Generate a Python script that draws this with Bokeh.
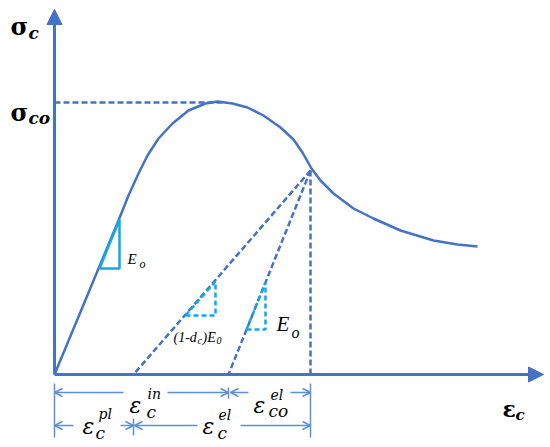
from bokeh.plotting import figure
from bokeh.models import Arrow, NormalHead, OpenHead, Range1d
from bokeh.core.properties import value
from bokeh.embed import file_html
from bokeh.resources import INLINE

# ---- data (schematic units) ----
env_strain = [0, 64, 74, 84, 93, 104, 118, 134, 151, 163, 178, 193, 209, 226, 239, 248, 257, 266, 279, 299, 319, 346, 379, 403, 423]
env_stress = [0, 154, 179, 201, 219, 236, 251, 264, 271, 273, 271, 267, 259, 247, 235, 222, 206, 194, 181, 166, 156, 144, 134, 130, 128]
peak_strain = 168
sigma_co = 272
unload_strain = 256
unload_stress = 204
eps_pl = 79            # damaged unloading line meets axis
eps_el_start = 174     # undamaged (E0) unloading line meets axis
axis_x_end = 489
axis_y_end = 365
tri1_x = [45, 65, 65, 45]
tri1_y = [106, 106, 155, 106]
tri2_x = [131, 161, 161, 131]
tri2_y = [59, 59, 93, 59]
tri3_x = [192, 211, 211, 192]
tri3_y = [45, 45, 92, 45]

BLUE = "#4472C4"
DIM = "#5B8FD6"
CYAN = "#11A9EC"

p = figure(width=550, height=447, output_backend="svg", toolbar_location=None,
           x_range=Range1d(-54, 496), y_range=Range1d(-73, 374), min_border=0)
p.axis.visible = False
p.grid.visible = False
p.outline_line_color = None

# axes with arrows
p.add_layout(Arrow(x_start=0, y_start=0, x_end=0, y_end=axis_y_end, line_color=BLUE, line_width=3,
                   end=NormalHead(size=15, fill_color=BLUE, line_color=BLUE)))
p.add_layout(Arrow(x_start=0, y_start=0, x_end=axis_x_end, y_end=0, line_color=BLUE, line_width=3,
                   end=NormalHead(size=15, fill_color=BLUE, line_color=BLUE)))

# envelope curve
p.line(env_strain, env_stress, line_color=BLUE, line_width=2.5, line_join="round")

# dashed guides
p.line([0, peak_strain], [sigma_co, sigma_co], line_color=BLUE, line_width=2.5, line_dash="6 3")
p.line([unload_strain, eps_pl], [unload_stress, 0], line_color=BLUE, line_width=2.5, line_dash="6 3")
p.line([unload_strain, eps_el_start], [unload_stress, 0], line_color=BLUE, line_width=2.5, line_dash="6 3")
p.line([unload_strain, unload_strain], [unload_stress, 0], line_color=BLUE, line_width=2.5, line_dash="6 3")

# slope triangles
p.line(tri1_x, tri1_y, line_color=CYAN, line_width=2.5)
p.line(tri2_x, tri2_y, line_color=CYAN, line_width=2.5, line_dash="5 3")
p.line(tri3_x, tri3_y, line_color=CYAN, line_width=2.5, line_dash="5 3")

# dimension lines
row1, row2 = -18, -51
def dim(xs, xe, y):
    p.add_layout(Arrow(x_start=xs, y_start=y, x_end=xe, y_end=y, line_color=DIM, line_width=1.5,
                       end=OpenHead(size=8, line_color=DIM, line_width=1.5)))

dim(69, 0, row1); dim(113, eps_el_start, row1)
dim(194, eps_el_start + 2, row1); dim(236, unload_strain, row1)
dim(19, 0, row2); dim(66, eps_pl, row2)
dim(143, eps_pl + 1, row2); dim(186, unload_strain, row2)

for xx, y0, y1 in [(0, -9, -63), (unload_strain, -9, -63), (eps_el_start, -13, -24), (eps_pl, -44, -61)]:
    p.line([xx, xx], [y0, y1], line_color=DIM, line_width=1.5)

# ---- texts ----
def txt(x, y, s, size, font="DejaVu Serif", style="italic", color="black"):
    p.text(x=[x], y=[y], text=[s], text_font=value(font), text_font_size=f"{size}px",
           text_font_style=style, text_color=color, text_baseline="alphabetic", text_align="left")

# axis symbols
txt(-44, 348, "σ", 24, style="bold")
txt(-26, 342, "c", 17, style="bold italic")
txt(-44, 262, "σ", 24, style="bold")
txt(-26, 257, "co", 17, style="bold italic")
txt(448, -34, "ε", 22, style="bold")
txt(461, -40, "c", 15, style="bold italic")

# strain components
txt(75, -31, "ε", 22); txt(92, -37, "c", 17); txt(93, -19, "in", 14)
txt(199, -31, "ε", 22); txt(214, -36, "co", 17); txt(216, -20, "el", 14)
txt(28, -52, "ε", 22); txt(41, -58, "c", 17); txt(44, -39, "pl", 14)
txt(148, -52, "ε", 22); txt(163, -58, "c", 17); txt(164, -40, "el", 14)

# moduli
txt(73, 116, "E", 15, font="Liberation Serif"); txt(85, 111, "o", 12, font="Liberation Serif")
txt(222, 51, "E", 21, font="Liberation Serif"); txt(237, 42, "o", 16, font="Liberation Serif")
txt(119, 37, "(1-d", 14, font="Liberation Serif"); txt(143, 34, "c", 10, font="Liberation Serif")
txt(148, 37, ")E", 14, font="Liberation Serif"); txt(162, 34, "0", 10, font="Liberation Serif")

open("out.html", "w").write(file_html(p, INLINE))
